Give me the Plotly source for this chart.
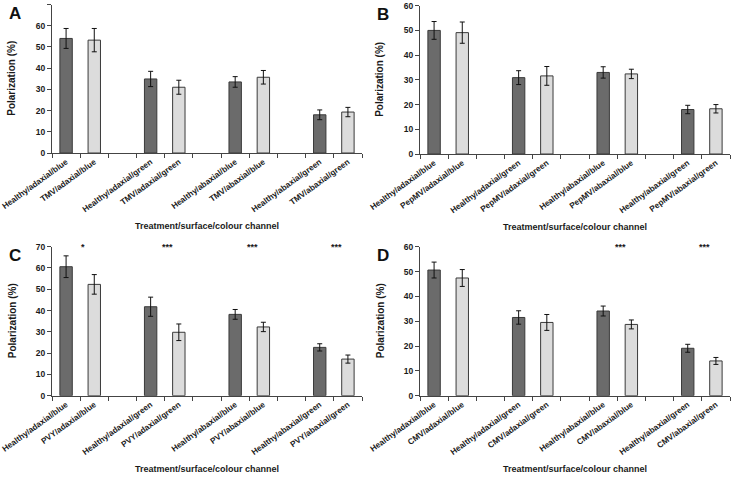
import plotly.graph_objects as go

# ---- data ----
panels = ["A", "B", "C", "D"]
viruses = ["TMV", "PepMV", "PVY", "CMV"]
conditions = ["adaxial/blue", "adaxial/green", "abaxial/blue", "abaxial/green"]

healthy_A = [54.0, 34.9, 33.5, 18.0]
healthy_A_err = [4.7, 3.6, 2.5, 2.3]
virus_A = [53.2, 31.0, 35.7, 19.3]
virus_A_err = [5.5, 3.3, 3.2, 2.2]

healthy_B = [50.0, 30.9, 33.0, 18.0]
healthy_B_err = [3.6, 2.8, 2.3, 1.7]
virus_B = [49.1, 31.6, 32.4, 18.3]
virus_B_err = [4.3, 3.8, 1.9, 1.7]

healthy_C = [60.6, 41.8, 38.2, 22.7]
healthy_C_err = [5.1, 4.5, 2.3, 1.7]
virus_C = [52.3, 29.8, 32.3, 17.2]
virus_C_err = [4.6, 3.9, 2.2, 1.9]

healthy_D = [50.6, 31.5, 34.1, 19.1]
healthy_D_err = [3.2, 2.7, 2.0, 1.6]
virus_D = [47.4, 29.5, 28.7, 14.0]
virus_D_err = [3.4, 3.2, 1.8, 1.4]

signif_C = ["*", "***", "***", "***"]
signif_D = ["", "", "***", "***"]

y_max = [70, 60, 70, 60]

healthy = [healthy_A, healthy_B, healthy_C, healthy_D]
healthy_err = [healthy_A_err, healthy_B_err, healthy_C_err, healthy_D_err]
virus = [virus_A, virus_B, virus_C, virus_D]
virus_err = [virus_A_err, virus_B_err, virus_C_err, virus_D_err]
signif = [["", "", "", ""], ["", "", "", ""], signif_C, signif_D]

# ---- layout geometry (pixels) ----
W, H = 736, 480
boxes = [  # x0, x1, ytop, ybottom in pixels
    (52, 362, 4.5, 153),
    (420, 730, 5.7, 154),
    (52, 362, 246.7, 395.7),
    (420, 730, 246.7, 395.7),
]

FONT = "Liberation Sans"
DARK = "#6b6b6b"
LIGHT = "#dcdcdc"
EDGE = "#3a3a3a"
TXT = "#1a1a1a"

fig = go.Figure()
layout = dict(
    width=W, height=H, margin=dict(l=0, r=0, t=0, b=0, autoexpand=False),
    paper_bgcolor="white", plot_bgcolor="white", showlegend=False,
    font=dict(family=FONT, color=TXT),
)
annotations = []

for i, p in enumerate(panels):
    v = viruses[i]
    cats = []
    labels = []
    hx, vx = [], []
    for j, c in enumerate(conditions):
        hcat = f"Healthy/{c}"
        vcat = f"{v}/{c}"
        cats += [hcat, vcat]
        labels += [hcat, vcat]
        hx.append(hcat)
        vx.append(vcat)
        if j < len(conditions) - 1:
            cats.append(f"gap{j}")
            labels.append("")
    sfx = "" if i == 0 else str(i + 1)
    xa, ya = "x" + sfx, "y" + sfx
    fig.add_trace(go.Bar(
        x=hx, y=healthy[i], xaxis=xa, yaxis=ya, width=0.44,
        marker=dict(color=DARK, line=dict(color=EDGE, width=1)),
        error_y=dict(type="data", array=healthy_err[i], color="#111111", thickness=1, width=2.5),
    ))
    fig.add_trace(go.Bar(
        x=vx, y=virus[i], xaxis=xa, yaxis=ya, width=0.44,
        marker=dict(color=LIGHT, line=dict(color=EDGE, width=1)),
        error_y=dict(type="data", array=virus_err[i], color="#111111", thickness=1, width=2.5),
    ))
    x0, x1, yt, yb = boxes[i]
    layout["xaxis" + sfx] = dict(
        domain=[x0 / W, x1 / W], anchor=ya, type="category", automargin=False,
        categoryorder="array", categoryarray=cats,
        tickmode="array", tickvals=cats, ticktext=labels,
        range=[-0.5, len(cats) - 0.5], tickson="boundaries",
        ticks="outside", ticklen=4, tickcolor="#444444",
        showline=True, linecolor="#444444", linewidth=1,
        tickangle=-36, tickfont=dict(size=8.2, family=FONT, color=TXT, weight="bold"),
        showgrid=False, zeroline=False,
    )
    layout["yaxis" + sfx] = dict(
        domain=[1 - yb / H, 1 - yt / H], anchor=xa, automargin=False,
        range=[0, y_max[i]], dtick=10,
        ticks="outside", ticklen=4, tickcolor="#444444",
        showline=True, linecolor="#444444", linewidth=1,
        tickfont=dict(size=8.5, family=FONT, color=TXT, weight="bold"),
        showgrid=False, zeroline=False,
    )
    # panel letter
    annotations.append(dict(
        text=f"<b>{p}</b>", xref="paper", yref="paper",
        x=(x0 - 45) / W, y=1 - (yt + 9) / H, xanchor="left", yanchor="middle",
        showarrow=False, font=dict(size=17, family=FONT, color="#111111"),
    ))
    # y title
    annotations.append(dict(
        text="<b>Polarization (%)</b>", xref="paper", yref="paper",
        x=(x0 - 40) / W, y=1 - ((yt + yb) / 2) / H, textangle=-90,
        xanchor="center", yanchor="middle", showarrow=False,
        font=dict(size=10, family=FONT, color=TXT),
    ))
    # x title
    annotations.append(dict(
        text="<b>Treatment/surface/colour channel</b>", xref="paper", yref="paper",
        x=((x0 + x1) / 2) / W, y=1 - (yb + 73) / H, xanchor="center", yanchor="middle",
        showarrow=False, font=dict(size=9, family=FONT, color=TXT),
    ))
    # significance stars
    for j, s in enumerate(signif[i]):
        if s:
            annotations.append(dict(
                text=f"<b>{s}</b>", xref=xa, yref=ya,
                x=3 * j + 0.6, y=y_max[i], xanchor="center", yanchor="middle",
                showarrow=False, font=dict(size=9, family=FONT, color=TXT),
            ))

layout["annotations"] = annotations
fig.update_layout(**layout)
fig.write_html(
    "out.html",
    config={"displayModeBar": False},
    post_script="document.body.style.margin='0px';document.body.style.padding='0px';",
)
